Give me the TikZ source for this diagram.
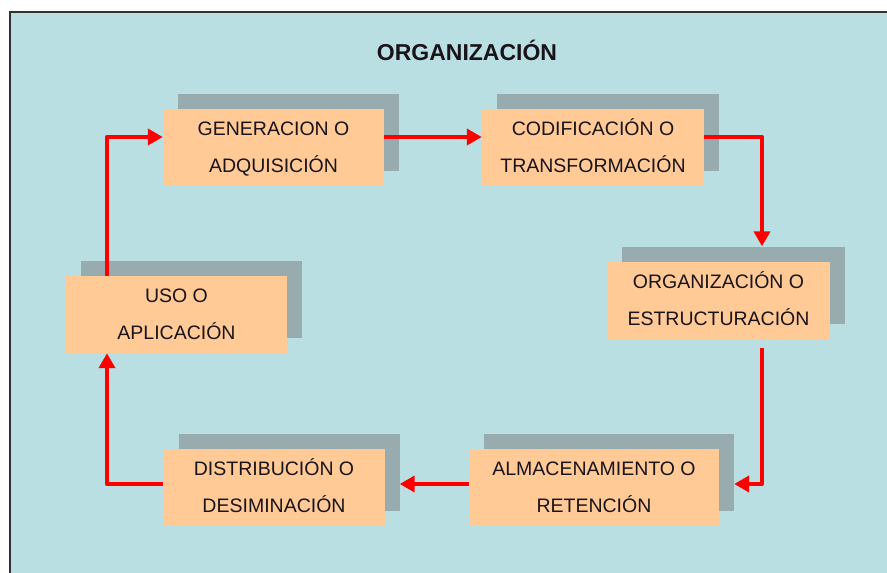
\documentclass[tikz,border=0pt]{standalone}
\usepackage{fontspec}
\setmainfont{Liberation Sans}
\usetikzlibrary{arrows.meta}
\definecolor{bgc}{RGB}{186,223,226}
\definecolor{boxc}{RGB}{255,202,150}
\definecolor{shadc}{RGB}{152,172,175}
\definecolor{framec}{RGB}{50,50,50}
\definecolor{txtc}{RGB}{25,20,25}
\newcommand{\ph}{\vphantom{ÓQ}}
\tikzset{
  stagebox/.style={fill=boxc, draw=none, minimum width=221pt, minimum height=77pt, inner sep=0pt,
    align=center, text=txtc, font=\fontsize{19.5}{37}\selectfont},
  shadowbox/.style={fill=shadc, draw=none, minimum width=221pt, minimum height=77pt, inner sep=0pt},
  flow/.style={draw=red, line width=4.8pt, line join=round, -{Triangle[length=15pt,width=16pt]}},
}
\begin{document}
\begin{tikzpicture}[x=1pt,y=-1pt]
\useasboundingbox (0,0) rectangle (887,573);
\fill[white] (0,0) rectangle (887,573);
\fill[bgc] (10,12) rectangle (887,573);
\draw[framec, line width=2pt] (10,573) -- (10,12) -- (887,12);
\node[font=\fontsize{23}{27}\selectfont\bfseries, text=txtc] (title) at (467,50) {ORGANIZACIÓN};
% shadows
\node[shadowbox] (gs) at (288.5,132.5) {};
\node[shadowbox, minimum width=222pt] (cs) at (608,132.5) {};
\node[shadowbox, minimum width=223pt] (os) at (733.5,285) {};
\node[shadowbox, minimum width=250pt] (as) at (609,472.5) {};
\node[shadowbox] (ds) at (289,472.5) {};
\node[shadowbox] (us) at (191.5,299.5) {};
% boxes
\node[stagebox] (g) at (273.5,147.5) {\ph GENERACION O\\\ph ADQUISICIÓN};
\node[stagebox, minimum width=222pt] (c) at (593,147.5) {\ph CODIFICACIÓN O\\\ph TRANSFORMACIÓN};
\node[stagebox, minimum width=223pt] (o) at (718.5,300) {\ph ORGANIZACIÓN O\\\ph ESTRUCTURACIÓN};
\node[stagebox, minimum width=250pt] (a) at (594,487.5) {\ph ALMACENAMIENTO O\\\ph RETENCIÓN};
\node[stagebox] (d) at (274,487.5) {\ph DISTRIBUCIÓN O\\\ph DESIMINACIÓN};
\node[stagebox] (u) at (176.5,314.5) {\ph USO O\\\ph APLICACIÓN};
% connectors
\draw[flow] ([xshift=-69.5pt]u.north) |- ([yshift=10.5pt]g.west);
\draw[flow] ([yshift=10.5pt]g.east) -- ([yshift=10.5pt]c.west);
\draw[flow] ([yshift=10.5pt]c.east) -| ([xshift=28.5pt]os.north);
\draw[flow] ([xshift=43.5pt,yshift=-9pt]o.south) |- ([yshift=-11.5pt]as.east);
\draw[flow] ([yshift=3.5pt]a.west) -- ([yshift=-11.5pt]ds.east);
\draw[flow] ([yshift=3.5pt]d.west) -| ([xshift=-69.5pt]u.south);
\end{tikzpicture}
\end{document}
